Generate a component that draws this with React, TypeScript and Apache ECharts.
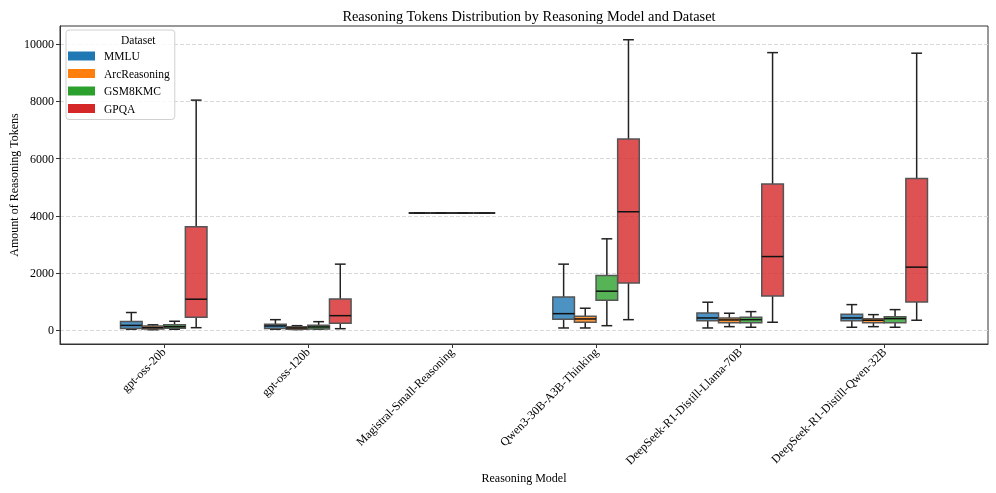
import React, { useEffect, useRef } from "react";
import * as echarts from "echarts";

const models = [
  "gpt-oss-20b",
  "gpt-oss-120b",
  "Magistral-Small-Reasoning",
  "Qwen3-30B-A3B-Thinking",
  "DeepSeek-R1-Distill-Llama-70B",
  "DeepSeek-R1-Distill-Qwen-32B",
];

const datasets = ["MMLU", "ArcReasoning", "GSM8KMC", "GPQA"];

// [min, q1, median, q3, max] per model
const mmlu = [
  [35, 60, 170, 310, 620],
  [35, 60, 150, 210, 370],
  [4096, 4096, 4096, 4096, 4096],
  [80, 385, 580, 1165, 2310],
  [80, 336, 430, 605, 980],
  [105, 336, 430, 560, 896],
];
const arcReasoning = [
  [20, 45, 90, 150, 190],
  [25, 35, 80, 125, 160],
  [4096, 4096, 4096, 4096, 4096],
  [80, 280, 395, 490, 770],
  [126, 266, 360, 430, 595],
  [126, 266, 350, 406, 546],
];
const gsm8kmc = [
  [35, 70, 125, 195, 315],
  [35, 40, 115, 175, 300],
  [4096, 4096, 4096, 4096, 4096],
  [160, 1050, 1365, 1910, 3195],
  [105, 266, 371, 455, 651],
  [105, 266, 406, 476, 721],
];
const gpqa = [
  [90, 455, 1085, 3615, 8040],
  [55, 245, 510, 1095, 2310],
  [4096, 4096, 4096, 4096, 4096],
  [370, 1655, 4140, 6680, 10150],
  [280, 1200, 2575, 5110, 9700],
  [350, 990, 2205, 5305, 9680],
];

const yTicks = [0, 2000, 4000, 6000, 8000, 10000];

const seriesValues = [mmlu, arcReasoning, gsm8kmc, gpqa];
const fullColors = ["#1f77b4", "#ff7f0e", "#2ca02c", "#d62728"];
const boxColors = ["rgba(31,119,180,0.8)", "rgba(255,127,14,0.8)", "rgba(44,160,44,0.8)", "rgba(214,39,40,0.8)"];

const FONT = "Liberation Serif, Times New Roman, serif";
const HUE_W = 0.15;

export default function App() {
  const ref = useRef<HTMLDivElement>(null);

  useEffect(() => {
    if (!ref.current) return;
    const chart = echarts.init(ref.current, null, { renderer: "svg" });

    const makeRender = (hueIdx: number) => (params: any, api: any) => {
      const cat = api.value(0);
      const xc = cat + (hueIdx - 1.5) * HUE_W;
      const vMin = api.value(1);
      const q1 = api.value(2);
      const med = api.value(3);
      const q3 = api.value(4);
      const vMax = api.value(5);
      const pMin = api.coord([xc, vMin]);
      const pQ1 = api.coord([xc, q1]);
      const pMed = api.coord([xc, med]);
      const pQ3 = api.coord([xc, q3]);
      const pMax = api.coord([xc, vMax]);
      const w = api.size([HUE_W, 0])[0];
      const half = w / 2;
      const cap = w / 4;
      const x = pQ1[0];
      const whisk = { stroke: "#222", lineWidth: 1.5 };
      return {
        type: "group",
        children: [
          { type: "line", shape: { x1: x, y1: pQ3[1], x2: x, y2: pMax[1] }, style: whisk },
          { type: "line", shape: { x1: x, y1: pQ1[1], x2: x, y2: pMin[1] }, style: whisk },
          { type: "line", shape: { x1: x - cap, y1: pMax[1], x2: x + cap, y2: pMax[1] }, style: whisk },
          { type: "line", shape: { x1: x - cap, y1: pMin[1], x2: x + cap, y2: pMin[1] }, style: whisk },
          {
            type: "rect",
            shape: { x: x - half, y: pQ3[1], width: w, height: pQ1[1] - pQ3[1] },
            style: { fill: boxColors[hueIdx], stroke: "#555", lineWidth: 1.5 },
          },
          {
            type: "line",
            shape: { x1: x - half, y1: pMed[1], x2: x + half, y2: pMed[1] },
            style: { stroke: "#111", lineWidth: 1.5 },
          },
        ],
      };
    };

    const series = datasets.map((name, i) => ({
      name,
      type: "custom",
      renderItem: makeRender(i),
      itemStyle: { color: boxColors[i] },
      encode: { x: 0, y: [1, 2, 3, 4, 5] },
      data: seriesValues[i].map((v, m) => [m, ...v]),
      z: i === 3 ? 3 : 2,
    }));

    chart.setOption({
      animation: false,
      title: {
        text: "Reasoning Tokens Distribution by Reasoning Model and Dataset",
        left: 524,
        textAlign: "center",
        top: 4,
        textStyle: { fontFamily: FONT, fontSize: 14.4, fontWeight: "normal", color: "#000" },
      },
      legend: {
        left: 66,
        top: 30,
        orient: "vertical",
        padding: [20, 5, 5, 2],
        itemGap: 5.5,
        itemWidth: 27,
        itemHeight: 9,
        icon: "rect",
        borderColor: "#d0d0d0",
        borderWidth: 1,
        borderRadius: 3,
        backgroundColor: "rgba(255,255,255,0.8)",
        textStyle: { fontFamily: FONT, fontSize: 11.5, color: "#000", padding: [0, 0, 0, 4] },
        data: datasets.map((n, i) => ({ name: n, itemStyle: { color: fullColors[i], borderWidth: 0 } })),
        selectedMode: false,
      },
      graphic: [
        {
          type: "text",
          left: 121,
          top: 34,
          style: { text: "Dataset", fontFamily: FONT, fontSize: 11.5, fill: "#000", textAlign: "center" },
          z: 100,
        },
      ],
      grid: {
        left: 60,
        right: 8,
        top: 26,
        bottom: 149,
        show: true,
        borderColor: "#333",
        borderWidth: 1,
        backgroundColor: "transparent",
        containLabel: false,
        outerBoundsMode: "none",
      },
      xAxis: {
        type: "value",
        min: -0.72,
        max: 5.72,
        name: "Reasoning Model",
        nameLocation: "middle",
        nameGap: 128,
        nameMoveOverlap: false,
        nameTextStyle: { fontFamily: FONT, fontSize: 12, color: "#000" },
        axisLine: { show: true, onZero: false, lineStyle: { color: "#333" } },
        axisTick: { show: true, length: 4, lineStyle: { color: "#333" }, customValues: [0, 1, 2, 3, 4, 5] },
        axisLabel: {
          customValues: [0, 1, 2, 3, 4, 5],
          rotate: 45,
          margin: 6,
          fontFamily: FONT,
          fontSize: 12,
          color: "#000",
          formatter: (v: number) => models[Math.round(v)] ?? "",
        },
        splitLine: { show: false },
      },
      yAxis: {
        type: "value",
        min: -480,
        max: 10630,
        name: "Amount of Reasoning Tokens",
        nameLocation: "middle",
        nameGap: 40,
        nameMoveOverlap: false,
        nameTextStyle: { fontFamily: FONT, fontSize: 12, color: "#000" },
        axisLine: { show: true, onZero: false, lineStyle: { color: "#333" } },
        axisTick: { show: true, length: 4, lineStyle: { color: "#333" }, customValues: yTicks },
        axisLabel: {
          customValues: yTicks,
          margin: 6,
          fontFamily: FONT,
          fontSize: 12,
          color: "#000",
          formatter: (v: number) => String(v),
        },
        splitLine: { show: true, lineStyle: { color: "#d9d9d9", type: [4, 2], width: 1 } },
      },
      series,
    });

    return () => chart.dispose();
  }, []);

  return <div ref={ref} style={{ position: "fixed", left: 0, top: 0, width: 996, height: 493 }} />;
}
